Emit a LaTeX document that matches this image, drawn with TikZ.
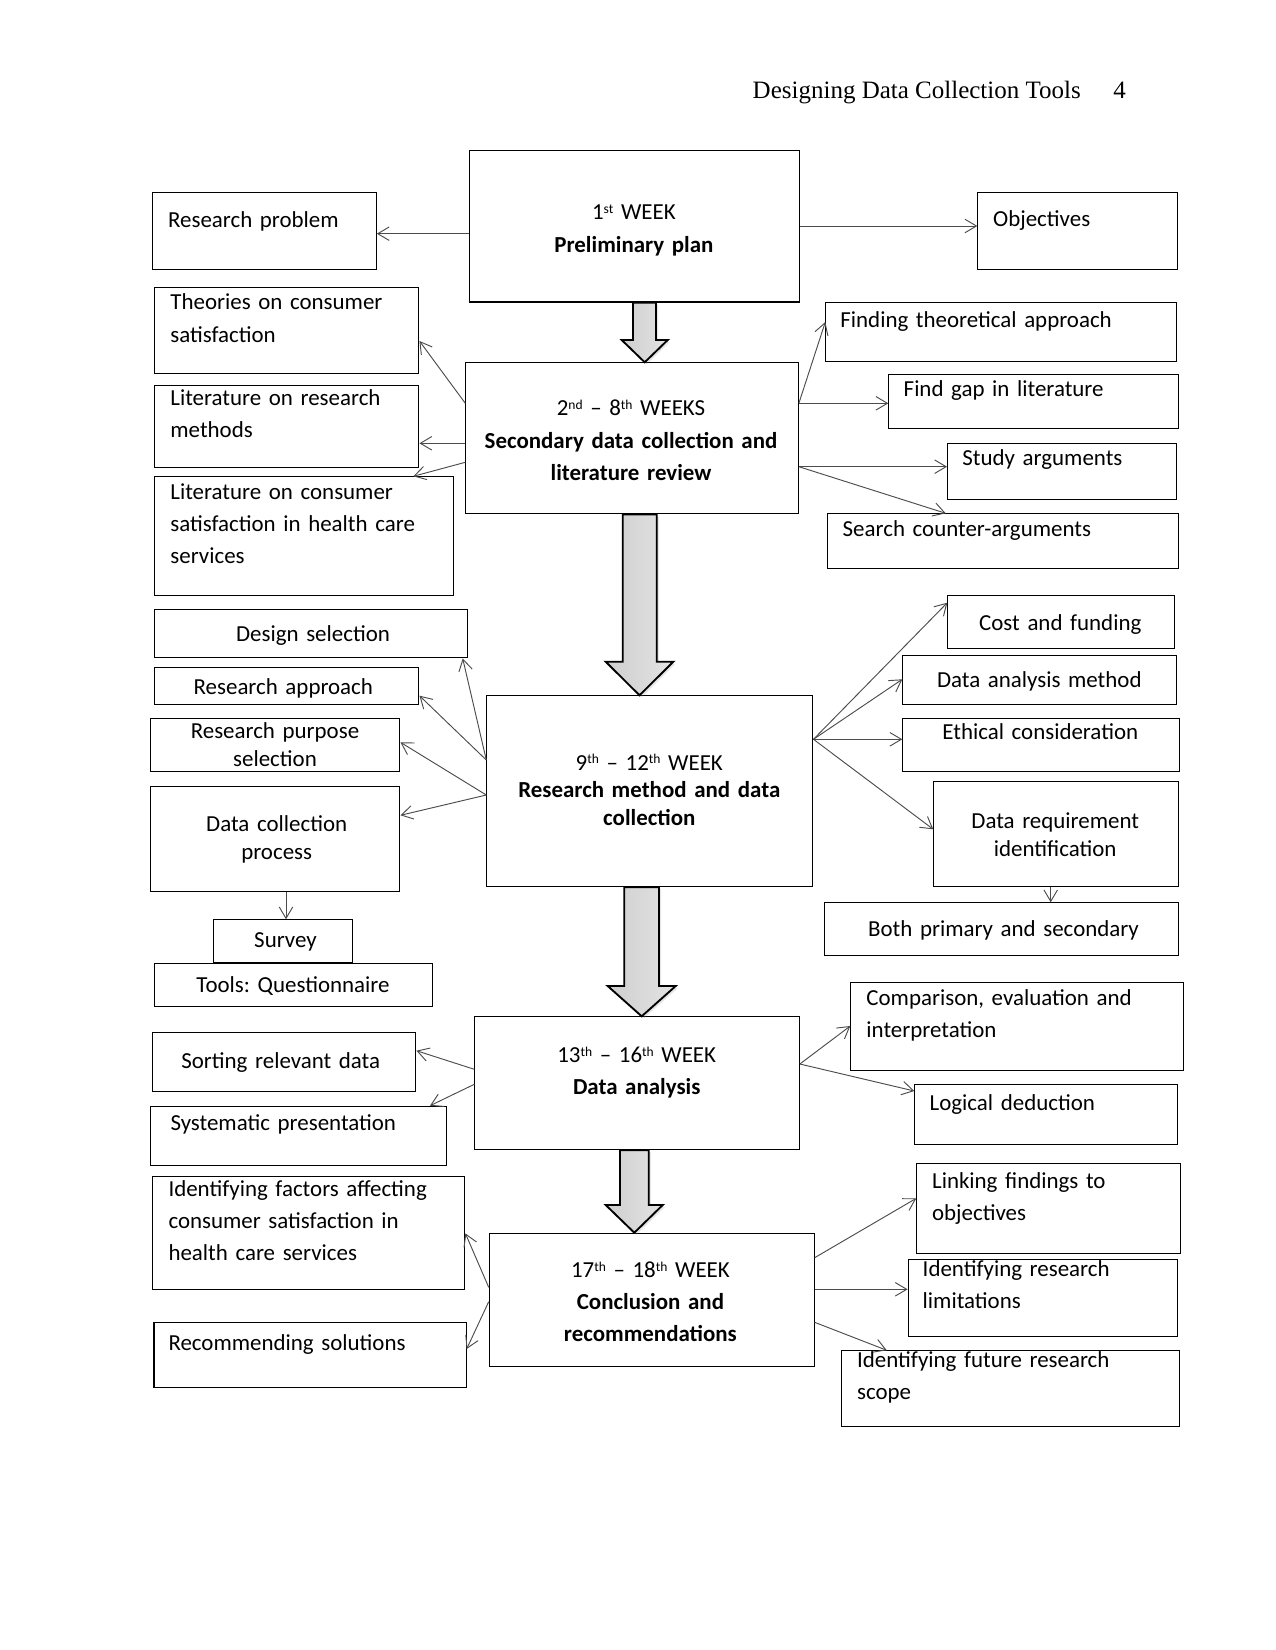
\documentclass[tikz,border=0pt]{standalone}
\usepackage{fontspec}
\setmainfont{Carlito}
\newfontfamily\headfont{Liberation Serif}
\usetikzlibrary{arrows.meta,shadows}
\newcommand\sps[1]{\raisebox{3pt}{\fontsize{6.5}{7}\selectfont #1}}
\frenchspacing

\begin{document}
\begin{tikzpicture}[
  x=0.48pt, y=-0.48pt,
  box/.style={draw, line width=0.55pt, anchor=north west, inner sep=0pt},
  wh/.style 2 args={minimum width=#1*0.48pt, minimum height=#2*0.48pt},
  txt/.style={inner sep=0pt, anchor=base west, text width=7cm, align=left, font=\fontsize{11}{15.4}\selectfont},
  ctxt/.style={txt, anchor=base, align=center},
  tight/.style={font=\fontsize{11}{13.4}\selectfont},
  conn/.style={draw=black!70, line width=0.45pt, -{Straight Barb[length=5.5pt, width=6.5pt]}},
  blockarrow/.style={draw, line width=0.9pt, line join=miter, shading=axis, shading angle=90,
    left color=gray!38, middle color=white, right color=gray!22,
    drop shadow={shadow xshift=1pt, shadow yshift=-1pt, opacity=0.2}}
]
\useasboundingbox (0,0) rectangle (1275,1650);

\node[anchor=base west, inner sep=0pt, font=\headfont\fontsize{12}{14}\selectfont] (title) at (752.3,98.3) {Designing Data Collection Tools};
\node[anchor=base west, inner sep=0pt, font=\headfont\fontsize{12}{14}\selectfont] (pagenum) at (1113,98.3) {4};

\node[box, wh={329.2}{151.2}] (prelim) at (469.3,150.3) {};
\node[ctxt] (prelim-t) at (633.9,220) {1\sps{st} WEEK\\\textbf{Preliminary plan}};
\node[box, wh={223.4}{77}] (rp) at (152.3,192.3) {};
\node[txt] (rp-t) at (167.7,227.3) {Research problem};
\node[box, wh={200}{77}] (obj) at (977.3,192.3) {};
\node[txt] (obj-t) at (992.7,226.7) {Objectives};

\node[box, wh={332.4}{151}] (sec) at (465.3,362.3) {};
\node[ctxt] (sec-t) at (631,416) {2\sps{nd} – 8\sps{th} WEEKS\\\textbf{Secondary data collection and}\\\textbf{literature review}};
\node[box, wh={264}{86}] (theo) at (154.3,287.3) {};
\node[txt] (theo-t) at (170,310) {Theories on consumer\\satisfaction};
\node[box, wh={264}{82}] (litm) at (154.3,385.3) {};
\node[txt] (litm-t) at (170,405.7) {Literature on research\\methods};
\node[box, wh={299}{118.7}] (litc) at (154.3,476.3) {};
\node[txt] (litc-t) at (170,499.3) {Literature on consumer\\satisfaction in health care\\services};
\node[box, wh={350.4}{59.3}] (find) at (825.3,301.7) {};
\node[txt] (find-t) at (840,327.3) {Finding theoretical approach};
\node[box, wh={290}{54.3}] (gap) at (888.3,373.7) {};
\node[txt] (gap-t) at (903.3,396.7) {Find gap in literature};
\node[box, wh={228.7}{56}] (study) at (947,443.3) {};
\node[txt] (study-t) at (962,466) {Study arguments};
\node[box, wh={351}{55}] (search) at (827.3,513.3) {};
\node[txt] (search-t) at (842.3,536.7) {Search counter-arguments};

\node[box, wh={326}{190.7}] (rmd) at (486.3,695.3) {};
\node[ctxt, tight] (rmd-t) at (649.3,770) {9\sps{th} – 12\sps{th} WEEK\\\textbf{Research method and data}\\\textbf{collection}};
\node[box, wh={313}{48}] (design) at (154.3,609.3) {};
\node[ctxt] (design-t) at (313,641) {Design selection};
\node[box, wh={264}{37}] (appr) at (154.3,667.3) {};
\node[ctxt] (appr-t) at (283.3,694) {Research approach};
\node[box, wh={249}{53}] (purp) at (150.3,718.3) {};
\node[ctxt, tight] (purp-t) at (275,738.3) {Research purpose\\selection};
\node[box, wh={249}{105}] (dcp) at (150.3,786.3) {};
\node[ctxt, tight] (dcp-t) at (276.7,831.7) {Data collection\\process};
\node[box, wh={139}{42.7}] (survey) at (213.3,919.3) {};
\node[ctxt] (survey-t) at (285.5,947.7) {Survey};
\node[box, wh={278}{42.7}] (tools) at (154.3,963.3) {};
\node[ctxt] (tools-t) at (293,992.7) {Tools: Questionnaire};
\node[box, wh={227}{53}] (cost) at (947.3,595.3) {};
\node[ctxt] (cost-t) at (1060.3,630) {Cost and funding};
\node[box, wh={274}{49}] (dam) at (902.3,655.3) {};
\node[ctxt] (dam-t) at (1039.3,687.3) {Data analysis method};
\node[box, wh={277}{53}] (eth) at (902.3,718.3) {};
\node[ctxt] (eth-t) at (1040.3,739) {Ethical consideration};
\node[box, wh={245}{104.7}] (dreq) at (933.3,781.3) {};
\node[ctxt, tight] (dreq-t) at (1055.2,828.3) {Data requirement\\identification};
\node[box, wh={354}{52.7}] (both) at (824.3,902.3) {};
\node[ctxt] (both-t) at (1003.5,936.7) {Both primary and secondary};

\node[box, wh={324.4}{132.7}] (da) at (474.3,1016.3) {};
\node[ctxt] (da-t) at (636.7,1062.7) {13\sps{th} – 16\sps{th} WEEK\\\textbf{Data analysis}};
\node[box, wh={263.2}{59.3}] (sort) at (152.1,1031.7) {};
\node[ctxt] (sort-t) at (280.7,1068.3) {Sorting relevant data};
\node[box, wh={296.1}{59.3}] (syst) at (150,1105.7) {};
\node[txt] (syst-t) at (170.1,1130.7) {Systematic presentation};
\node[box, wh={332.4}{87.7}] (comp) at (850.3,982.3) {};
\node[txt] (comp-t) at (866,1005) {Comparison, evaluation and\\interpretation};
\node[box, wh={262.4}{60}] (logi) at (914.3,1084.3) {};
\node[txt] (logi-t) at (929.3,1110.7) {Logical deduction};

\node[box, wh={324.8}{133}] (conc) at (488.7,1232.7) {};
\node[ctxt] (conc-t) at (650.4,1277.3) {17\sps{th} – 18\sps{th} WEEK\\\textbf{Conclusion and}\\\textbf{recommendations}};
\node[box, wh={312.2}{113.6}] (idf) at (152,1175.7) {};
\node[txt] (idf-t) at (168.1,1196.7) {Identifying factors affecting\\consumer satisfaction in\\health care services};
\node[box, wh={312.1}{65}] (rec) at (153.4,1322.3) {};
\node[txt] (rec-t) at (168.1,1350) {Recommending solutions};
\node[box, wh={263.2}{90}] (link) at (916.3,1163.3) {};
\node[txt] (link-t) at (931.7,1188.3) {Linking findings to\\objectives};
\node[box, wh={269.2}{76.7}] (lim) at (907.6,1259.3) {};
\node[txt] (lim-t) at (922.3,1276.7) {Identifying research\\limitations};
\node[box, wh={337.6}{75.7}] (fut) at (841.3,1350.3) {};
\node[txt] (fut-t) at (856.7,1367.7) {Identifying future research\\scope};

\draw[blockarrow] (633,0 |- prelim.south) -- (633,340) -- (621.7,340) -- (644.7,0 |- sec.north) -- (667.7,340) -- (656,340) -- (656,0 |- prelim.south) -- cycle;
\draw[blockarrow] (622.7,0 |- sec.south) -- (622.7,661.7) -- (605.7,661.7) -- (639.5,0 |- rmd.north) -- (673.3,661.7) -- (656.7,661.7) -- (656.7,0 |- sec.south) -- cycle;
\draw[blockarrow] (624.3,0 |- rmd.south) -- (624.3,986) -- (607.7,986) -- (641.7,0 |- da.north) -- (675.7,986) -- (659,986) -- (659,0 |- rmd.south) -- cycle;
\draw[blockarrow] (620,0 |- da.south) -- (620,1205) -- (605.7,1205) -- (634.3,0 |- conc.north) -- (662.7,1205) -- (648.7,1205) -- (648.7,0 |- da.south) -- cycle;

\draw[conn] (prelim.west |- 0,233.7) -- (rp.east |- 0,233.7);
\draw[conn] (prelim.east |- 0,226) -- (obj.west |- 0,226);
\draw[conn] (sec.west |- 0,403.3) -- (theo.east |- 0,341);
\draw[conn] (sec.west |- 0,443.3) -- (litm.east |- 0,443.3);
\draw[conn] (sec.west |- 0,462.3) -- (413.3,0 |- litc.north);
\draw[conn] (sec.east |- 0,403.3) -- (find.west |- 0,322);
\draw[conn] (sec.east |- 0,403.3) -- (gap.west |- 0,403.3);
\draw[conn] (sec.east |- 0,466.7) -- (study.west |- 0,466.7);
\draw[conn] (sec.east |- 0,466.7) -- (945.7,0 |- search.north);
\draw[conn] (rmd.west |- 0,760) -- (462.7,0 |- design.south);
\draw[conn] (rmd.west |- 0,760) -- (appr.east |- 0,695.7);
\draw[conn] (rmd.west |- 0,795) -- (purp.east |- 0,742.3);
\draw[conn] (rmd.west |- 0,795) -- (dcp.east |- 0,815.3);
\draw[conn] (286,0 |- dcp.south) -- (286,0 |- survey.north);
\draw[conn] (rmd.east |- 0,739.3) -- (cost.west |- 0,602.7);
\draw[conn] (rmd.east |- 0,739.3) -- (dam.west |- 0,679.3);
\draw[conn] (rmd.east |- 0,739.3) -- (eth.west |- 0,739.3);
\draw[conn] (rmd.east |- 0,739.3) -- (dreq.west |- 0,829.3);
\draw[conn] (1050.7,0 |- dreq.south) -- (1050.7,0 |- both.north);
\draw[conn] (da.west |- 0,1069.3) -- (sort.east |- 0,1050.7);
\draw[conn] (da.west |- 0,1084.3) -- (430,0 |- syst.north);
\draw[conn] (da.east |- 0,1064) -- (comp.west |- 0,1026);
\draw[conn] (da.east |- 0,1064) -- (logi.west |- 0,1091);
\draw[conn] (conc.west |- 0,1287.3) -- (idf.east |- 0,1233.3);
\draw[conn] (conc.west |- 0,1301.7) -- (rec.east |- 0,1349);
\draw[conn] (conc.east |- 0,1257.7) -- (link.west |- 0,1198.3);
\draw[conn] (conc.east |- 0,1289.3) -- (lim.west |- 0,1289.3);
\draw[conn] (conc.east |- 0,1322.3) -- (886.8,0 |- fut.north);
\end{tikzpicture}
\end{document}
